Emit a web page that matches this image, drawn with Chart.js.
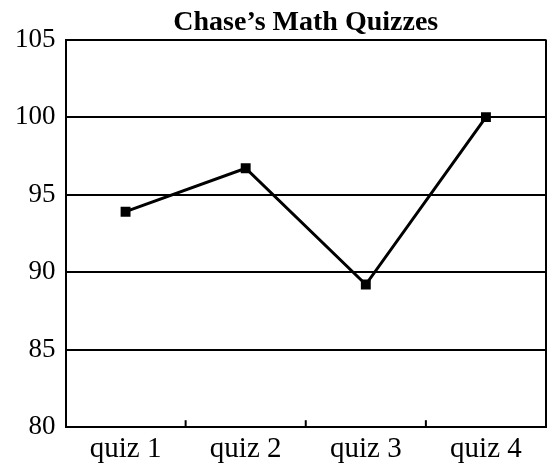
<!DOCTYPE html>
<html>
<head>
<meta charset="utf-8">
<script src="https://cdn.jsdelivr.net/npm/chart.js@4/dist/chart.umd.min.js"></script>
<style>
  html, body { margin: 0; padding: 0; background: #fff; }
  #wrap { width: 553px; height: 466px; }
</style>
</head>
<body>
<div id="wrap"><canvas id="c" width="553" height="466"></canvas></div>
<script>
const chartTitle = "Chase\u2019s Math Quizzes";
const categories = ["quiz 1", "quiz 2", "quiz 3", "quiz 4"];
const scores = [93.9, 96.7, 89.2, 100];
const yTicks = [80, 85, 90, 95, 100, 105];

const frameAndTicks = {
  id: 'frameAndTicks',
  afterDatasetsDraw(chart) {
    const ctx = chart.ctx;
    const a = chart.chartArea;
    const xs = chart.scales.x;
    ctx.save();
    ctx.strokeStyle = '#000';
    ctx.lineWidth = 2;
    ctx.beginPath();
    ctx.moveTo(a.right, a.top);
    ctx.lineTo(a.right, a.bottom);
    ctx.stroke();
    const n = categories.length;
    for (let i = 1; i < n; i++) {
      const x = xs.left + (xs.right - xs.left) * i / n;
      ctx.beginPath();
      ctx.moveTo(x, a.bottom);
      ctx.lineTo(x, a.bottom - 7);
      ctx.stroke();
    }
    ctx.restore();
  }
};

new Chart(document.getElementById('c'), {
  type: 'line',
  data: {
    labels: categories,
    datasets: [{
      data: scores,
      borderColor: '#000',
      backgroundColor: '#000',
      borderWidth: 3,
      pointStyle: 'rect',
      pointRadius: 7,
      pointBorderWidth: 0,
      tension: 0
    }]
  },
  options: {
    responsive: false,
    animation: false,
    layout: { padding: { left: 5, right: 1, top: 0, bottom: -6 } },
    plugins: {
      legend: { display: false },
      tooltip: { enabled: false },
      title: {
        display: true,
        text: chartTitle,
        fullSize: false,
        color: '#000',
        font: { family: 'Liberation Serif', size: 28, weight: 'bold' },
        padding: { top: 6, bottom: 0 }
      }
    },
    scales: {
      x: {
        offset: true,
        grid: { display: false, drawTicks: false },
        border: { display: true, color: '#000', width: 2 },
        ticks: {
          color: '#000',
          padding: 5,
          font: { family: 'Liberation Serif', size: 29 }
        }
      },
      y: {
        min: yTicks[0],
        max: yTicks[yTicks.length - 1],
        afterBuildTicks(scale) { scale.ticks = yTicks.map(v => ({ value: v })); },
        grid: { color: '#000', lineWidth: 2, drawTicks: false },
        border: { display: true, color: '#000', width: 2 },
        ticks: {
          color: '#000',
          padding: 10,
          font: { family: 'Liberation Serif', size: 27 }
        }
      }
    }
  },
  plugins: [frameAndTicks]
});
</script>
</body>
</html>
